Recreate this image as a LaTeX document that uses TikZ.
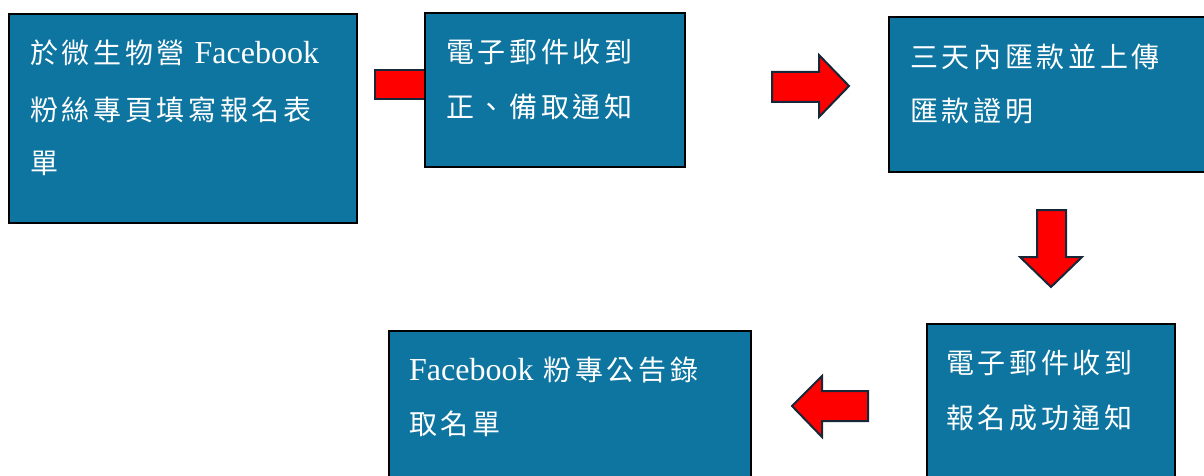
\documentclass[tikz,border=0pt]{standalone}
\usepackage{fontspec}
\setmainfont{Liberation Serif}
\newfontfamily\cjk[LetterSpace=13]{Noto Sans CJK TC}
\definecolor{boxblue}{RGB}{14,117,160}
\definecolor{arrowred}{RGB}{255,0,0}
\definecolor{arrowedge}{RGB}{22,40,56}
\tikzset{
  stepbox/.style={draw=black, line width=1.6pt, fill=boxblue},
  blockarrow/.style={draw=arrowedge, line width=2pt, fill=arrowred, line join=miter},
  txt/.style={anchor=west, inner sep=0pt, text=white, font=\fontsize{28}{28}\selectfont,
    text height=24.5pt, text depth=3.5pt},
}
\newcommand{\fb}{{\fontsize{32}{32}\selectfont\rmfamily Facebook}}
\begin{document}
\begin{tikzpicture}[x=1pt,y=-1pt]
\useasboundingbox (0,0) rectangle (1204,476);
\clip (0,0) rectangle (1204,476);
% first arrow, mostly hidden behind box 2
\draw[blockarrow] (375,70) rectangle (440,99);
% boxes
\node[stepbox, minimum width=348pt, minimum height=209pt, anchor=north west, inner sep=0pt] (b1) at (8,13) {};
\node[stepbox, minimum width=260pt, minimum height=154pt, anchor=north west, inner sep=0pt] (b2) at (424,12) {};
\node[stepbox, minimum width=330pt, minimum height=155pt, anchor=north west, inner sep=0pt] (b3) at (888,16) {};
\node[stepbox, minimum width=248pt, minimum height=170pt, anchor=north west, inner sep=0pt] (b4) at (926,323) {};
\node[stepbox, minimum width=362pt, minimum height=160pt, anchor=north west, inner sep=0pt] (b5) at (388,330) {};
% block arrows
\draw[blockarrow] (772,72) -- (819,72) -- (819,55) -- (849,86) -- (819,117) -- (819,102) -- (772,102) -- cycle;
\draw[blockarrow] (1037,210) -- (1066,210) -- (1066,257) -- (1082,257) -- (1051,287) -- (1020,257) -- (1037,257) -- cycle;
\draw[blockarrow] (868,391) -- (822,391) -- (822,376) -- (792,406) -- (822,437) -- (822,421) -- (868,421) -- cycle;
% texts
\node[txt] (t1a) at (30,53) {\cjk 於微生物營 \fb};
\node[txt] (t1b) at (30,110) {\cjk 粉絲專頁填寫報名表};
\node[txt] (t1c) at (30,163) {\cjk 單};
\node[txt] (t2a) at (446,52) {\cjk 電子郵件收到};
\node[txt] (t2b) at (446,107) {\cjk 正、備取通知};
\node[txt] (t3a) at (910,57) {\cjk 三天內匯款並上傳};
\node[txt] (t3b) at (910,111) {\cjk 匯款證明};
\node[txt] (t4a) at (946,363) {\cjk 電子郵件收到};
\node[txt] (t4b) at (946,418) {\cjk 報名成功通知};
\node[txt] (t5a) at (409,370) {\fb\cjk\ 粉專公告錄};
\node[txt] (t5b) at (409,424) {\cjk 取名單};
\end{tikzpicture}
\end{document}
